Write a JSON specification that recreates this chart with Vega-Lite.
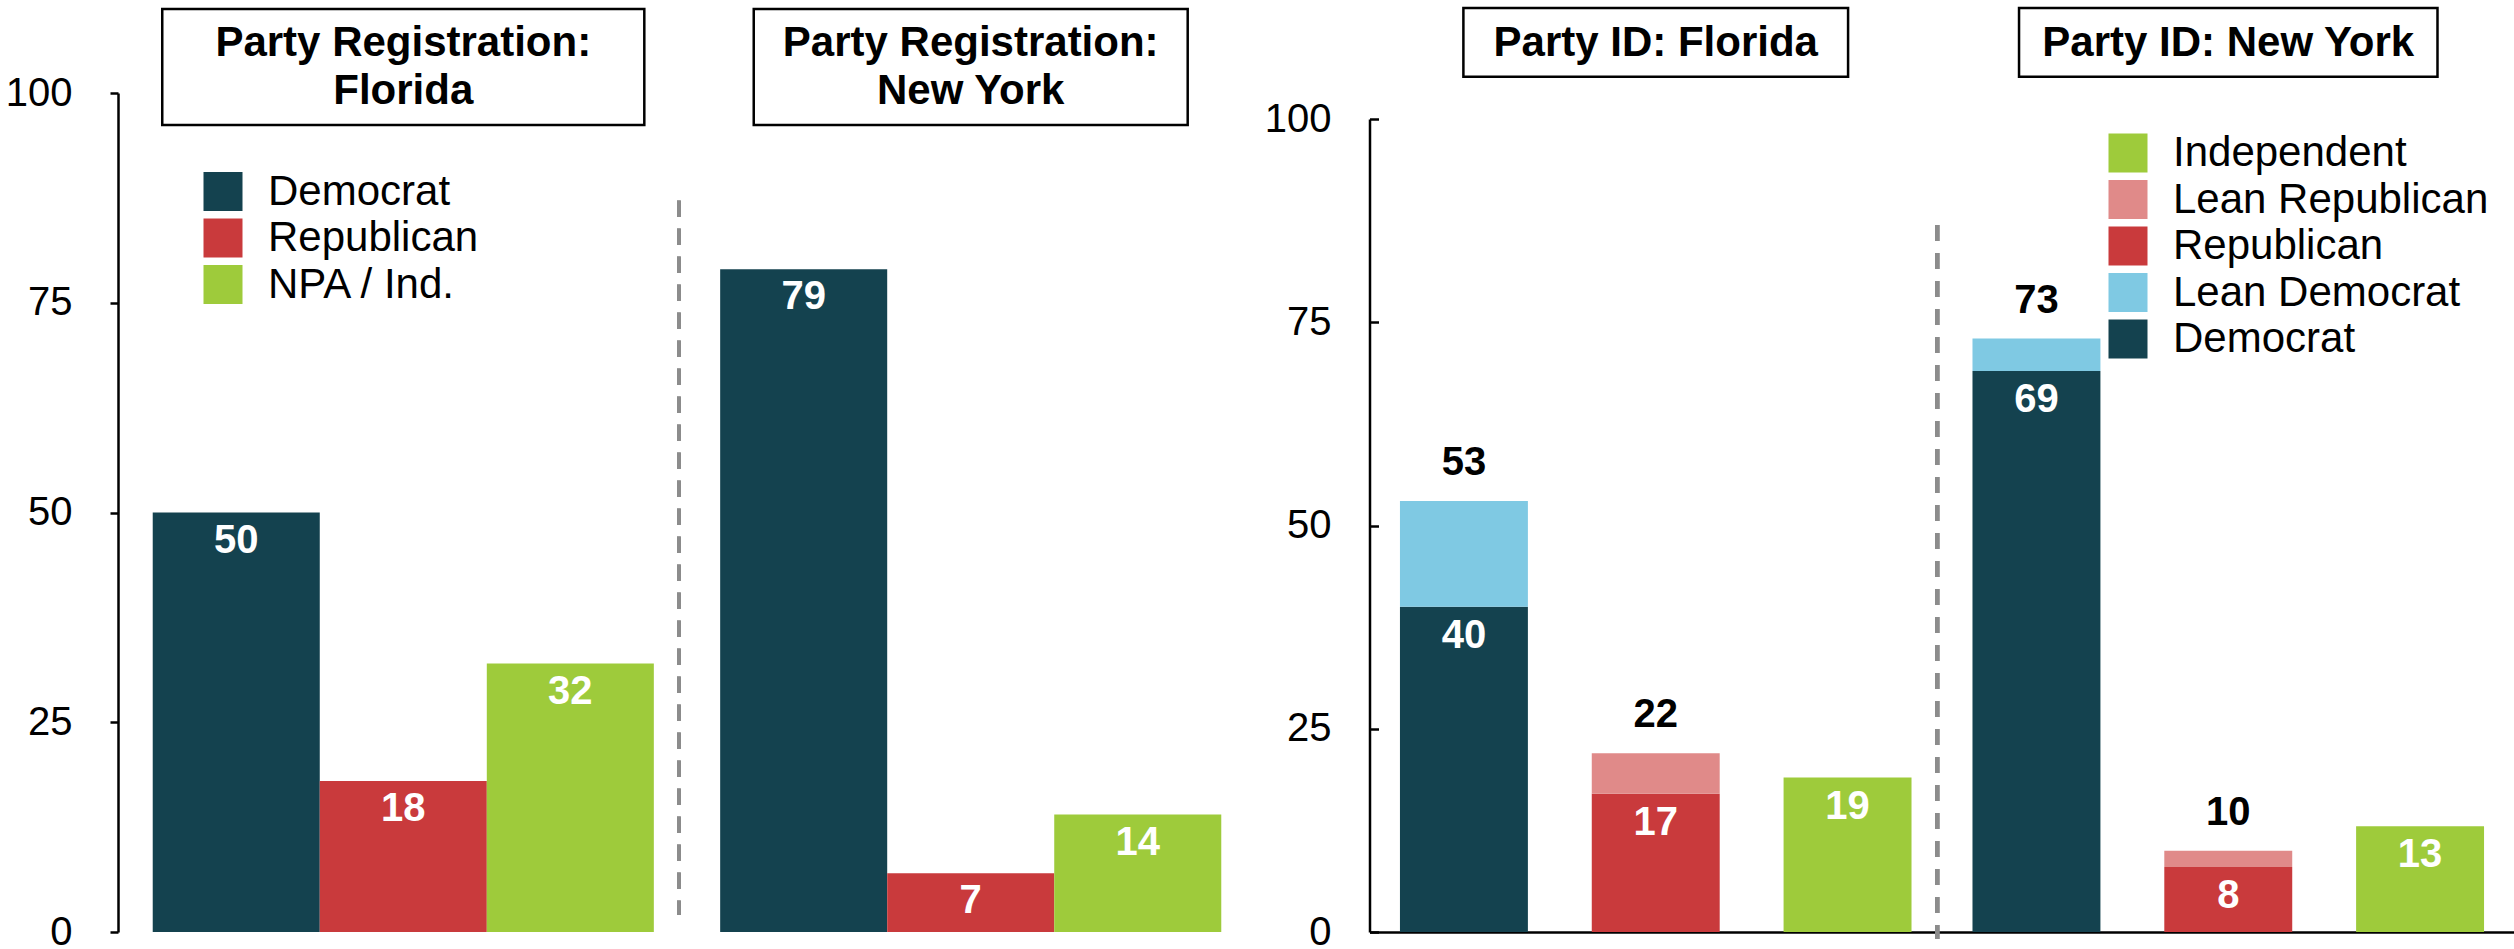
{
  "$schema": "https://vega.github.io/schema/vega-lite/v6.json",
  "background": "white",
  "padding": {"left": 5, "top": 6, "right": 0, "bottom": 0},
  "datasets": {
    "registration": [
      {"state": "Florida", "party": "Democrat", "value": 50},
      {"state": "Florida", "party": "Republican", "value": 18},
      {"state": "Florida", "party": "NPA / Ind.", "value": 32},
      {"state": "New York", "party": "Democrat", "value": 79},
      {"state": "New York", "party": "Republican", "value": 7},
      {"state": "New York", "party": "NPA / Ind.", "value": 14}
    ],
    "regTitles": [
      {"state": "Florida", "title": "Party Registration:\nFlorida"},
      {"state": "New York", "title": "Party Registration:\nNew York"}
    ],
    "partyid": [
      {"state": "Florida", "group": "Democrat", "party": "Democrat", "kind": "core", "value": 40},
      {"state": "Florida", "group": "Democrat", "party": "Lean Democrat", "kind": "lean", "value": 13},
      {"state": "Florida", "group": "Republican", "party": "Republican", "kind": "core", "value": 17},
      {"state": "Florida", "group": "Republican", "party": "Lean Republican", "kind": "lean", "value": 5},
      {"state": "Florida", "group": "Independent", "party": "Independent", "kind": "core", "value": 19},
      {"state": "New York", "group": "Democrat", "party": "Democrat", "kind": "core", "value": 69},
      {"state": "New York", "group": "Democrat", "party": "Lean Democrat", "kind": "lean", "value": 4},
      {"state": "New York", "group": "Republican", "party": "Republican", "kind": "core", "value": 8},
      {"state": "New York", "group": "Republican", "party": "Lean Republican", "kind": "lean", "value": 2},
      {"state": "New York", "group": "Independent", "party": "Independent", "kind": "core", "value": 13}
    ],
    "idTitles": [
      {"state": "Florida", "title": "Party ID: Florida"},
      {"state": "New York", "title": "Party ID: New York"}
    ]
  },
  "hconcat": [
    {
      "width": 1138,
      "height": 839,
      "layer": [
        {
          "data": {"name": "registration"},
          "mark": {"type": "bar"},
          "encoding": {
            "x": {"field": "state", "type": "nominal", "sort": ["Florida", "New York"], "scale": {"paddingInner": 0.1169, "paddingOuter": 0.0612}, "axis": null},
            "xOffset": {"field": "party", "type": "nominal", "scale": {"domain": ["Democrat", "Republican", "NPA / Ind."], "paddingInner": 0, "paddingOuter": 0}},
            "y": {"field": "value", "type": "quantitative", "scale": {"domain": [0, 100]}, "axis": {"title": null, "values": [0, 25, 50, 75, 100], "tickSize": 8, "labelPadding": 38}},
            "color": {"field": "party", "type": "nominal", "scale": {"domain": ["Democrat", "Republican", "NPA / Ind."], "range": ["#14424F", "#C93A3C", "#9ECB3B"]}, "legend": {"title": null, "orient": "none", "legendX": 84, "legendY": 77.5}}
          }
        },
        {
          "data": {"name": "registration"},
          "mark": {"type": "text", "color": "white", "fontSize": 40, "fontWeight": "bold", "baseline": "middle", "align": "center", "dy": 28},
          "encoding": {
            "x": {"field": "state", "type": "nominal"},
            "xOffset": {"field": "party", "type": "nominal"},
            "y": {"field": "value", "type": "quantitative"},
            "text": {"field": "value", "type": "quantitative"}
          }
        },
        {
          "data": {"name": "registration"},
          "mark": {"type": "rule", "color": "#8c8c8c", "strokeWidth": 3.7, "strokeDash": [16, 12]},
          "encoding": {
            "x": {"datum": "New York", "type": "nominal", "bandPosition": -0.0824},
            "y": {"datum": 87.16, "type": "quantitative"},
            "y2": {"datum": 2.03}
          }
        },
        {
          "data": {"name": "regTitles"},
          "transform": [{"filter": "datum.state === 'Florida'"}],
          "mark": {"type": "bar", "fill": "white", "stroke": "black", "strokeWidth": 2.5, "width": {"band": 0.962}},
          "encoding": {
            "x": {"field": "state", "type": "nominal"},
            "y": {"datum": 96.2, "type": "quantitative"},
            "y2": {"datum": 110}
          }
        },
        {
          "data": {"name": "regTitles"},
          "transform": [{"filter": "datum.state === 'New York'"}],
          "mark": {"type": "bar", "fill": "white", "stroke": "black", "strokeWidth": 2.5, "width": {"band": 0.866}},
          "encoding": {
            "x": {"field": "state", "type": "nominal"},
            "y": {"datum": 96.2, "type": "quantitative"},
            "y2": {"datum": 110}
          }
        },
        {
          "data": {"name": "regTitles"},
          "mark": {"type": "text", "color": "black", "fontSize": 42, "fontWeight": "bold", "align": "center", "baseline": "middle", "lineBreak": "\n", "lineHeight": 48},
          "encoding": {
            "x": {"field": "state", "type": "nominal"},
            "y": {"datum": 106.0, "type": "quantitative"},
            "text": {"field": "title", "type": "nominal"}
          }
        }
      ]
    },
    {
      "width": 1145,
      "height": 839,
      "layer": [
        {
          "data": {"name": "partyid"},
          "mark": {"type": "bar"},
          "encoding": {
            "x": {"field": "state", "type": "nominal", "sort": ["Florida", "New York"], "scale": {"paddingInner": 0.1065, "paddingOuter": 0.0532}, "axis": {"title": null, "labels": false, "ticks": false, "domain": true}},
            "xOffset": {"field": "group", "type": "nominal", "scale": {"domain": ["Democrat", "Republican", "Independent"], "paddingInner": 0.333, "paddingOuter": 0}},
            "y": {"field": "value", "type": "quantitative", "stack": "zero", "scale": {"domain": [0, 100], "range": [839, 26]}, "axis": {"title": null, "values": [0, 25, 50, 75, 100], "tickSize": -9, "labelPadding": 47.5}},
            "order": {"field": "kind", "type": "nominal"},
            "color": {"field": "party", "type": "nominal", "scale": {"domain": ["Independent", "Lean Republican", "Republican", "Lean Democrat", "Democrat"], "range": ["#9ECB3B", "#E08A89", "#C93A3C", "#7FC9E3", "#14424F"]}, "legend": {"title": null, "orient": "none", "legendX": 737.5, "legendY": 39}}
          }
        },
        {
          "data": {"name": "partyid"},
          "transform": [{"filter": "datum.kind === 'core'"}],
          "mark": {"type": "text", "color": "white", "fontSize": 40, "fontWeight": "bold", "baseline": "middle", "align": "center", "dy": 29},
          "encoding": {
            "x": {"field": "state", "type": "nominal"},
            "xOffset": {"field": "group", "type": "nominal"},
            "y": {"field": "value", "type": "quantitative", "stack": null},
            "text": {"field": "value", "type": "quantitative"}
          }
        },
        {
          "data": {"name": "partyid"},
          "transform": [{"filter": "datum.group !== 'Independent'"}],
          "mark": {"type": "text", "color": "black", "fontSize": 40, "fontWeight": "bold", "baseline": "middle", "align": "center", "dy": -38},
          "encoding": {
            "x": {"field": "state", "type": "nominal"},
            "xOffset": {"field": "group", "type": "nominal"},
            "y": {"aggregate": "sum", "field": "value", "type": "quantitative", "stack": null},
            "text": {"aggregate": "sum", "field": "value", "type": "quantitative"}
          }
        },
        {
          "data": {"name": "partyid"},
          "mark": {"type": "rule", "color": "#8c8c8c", "strokeWidth": 3.7, "strokeDash": [16, 12]},
          "encoding": {
            "x": {"datum": "New York", "type": "nominal", "bandPosition": -0.0688},
            "y": {"datum": 86.96, "type": "quantitative"},
            "y2": {"datum": -0.86}
          }
        },
        {
          "data": {"name": "idTitles"},
          "transform": [{"filter": "datum.state === 'Florida'"}],
          "mark": {"type": "bar", "fill": "white", "stroke": "black", "strokeWidth": 2.5, "width": {"band": 0.752}},
          "encoding": {
            "x": {"field": "state", "type": "nominal"},
            "y": {"datum": 105.2, "type": "quantitative"},
            "y2": {"datum": 113.65}
          }
        },
        {
          "data": {"name": "idTitles"},
          "transform": [{"filter": "datum.state === 'New York'"}],
          "mark": {"type": "bar", "fill": "white", "stroke": "black", "strokeWidth": 2.5, "width": {"band": 0.818}},
          "encoding": {
            "x": {"field": "state", "type": "nominal"},
            "y": {"datum": 105.2, "type": "quantitative"},
            "y2": {"datum": 113.65}
          }
        },
        {
          "data": {"name": "idTitles"},
          "mark": {"type": "text", "color": "black", "fontSize": 42, "fontWeight": "bold", "align": "center", "baseline": "middle"},
          "encoding": {
            "x": {"field": "state", "type": "nominal"},
            "y": {"datum": 109.3, "type": "quantitative"},
            "text": {"field": "title", "type": "nominal"}
          }
        }
      ]
    }
  ],
  "spacing": 113.5,
  "bounds": "flush",
  "resolve": {
    "scale": {"x": "independent", "y": "independent", "xOffset": "independent", "color": "independent"},
    "legend": {"color": "independent"},
    "axis": {"x": "independent", "y": "independent"}
  },
  "config": {
    "view": {"stroke": null},
    "font": "Liberation Sans",
    "axis": {"grid": false, "labelFont": "Liberation Sans", "labelFontSize": 40, "labelColor": "black", "domainColor": "black", "tickColor": "black", "domainWidth": 2.5, "tickWidth": 2.5},
    "legend": {"symbolType": "square", "symbolSize": 1521, "symbolStrokeWidth": 0, "labelFont": "Liberation Sans", "labelFontSize": 42, "labelColor": "black", "labelLimit": 600, "rowPadding": 4.5, "labelOffset": 24, "padding": 0},
    "text": {"font": "Liberation Sans"}
  }
}
